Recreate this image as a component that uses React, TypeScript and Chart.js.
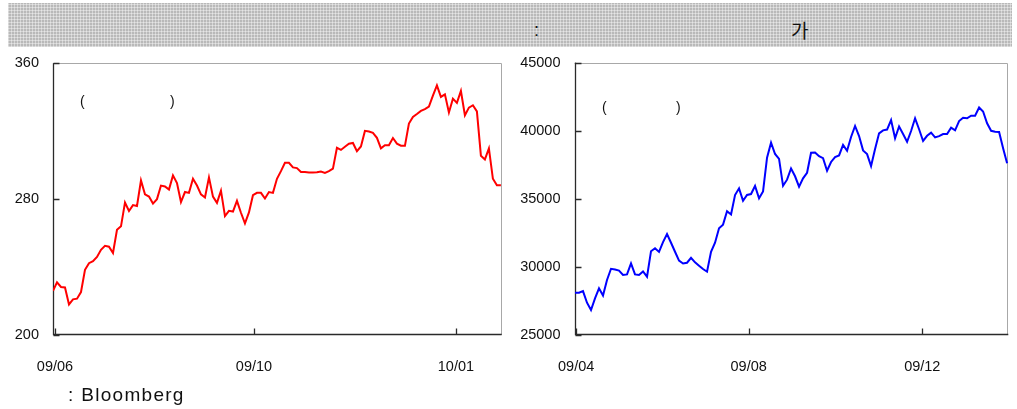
import React, { useEffect, useRef } from "react";
import { Chart, registerables } from "chart.js";

Chart.register(...registerables);

// ---- Left chart (red) ----
const leftValues = [
  226, 231, 228.3, 228, 218, 221, 221.4, 225.3, 238.4, 242.3,
  243.5, 246, 250.2, 252.5, 252, 248.3, 262, 264, 278, 273,
  276.5, 276, 291, 282.8, 281.5, 277.4, 280, 288, 287.5, 285.6,
  294, 289.5, 278.3, 284.2, 283.7, 292, 288, 282.8, 281, 292.8,
  281.5, 277.8, 285, 270, 273.1, 272.7, 279, 272, 265.7, 272.2,
  282.3, 283.7, 283.7, 280.4, 284.2, 283.7, 292, 296.5, 301.4, 301.4,
  298.7, 298.3, 296, 296, 295.7, 295.7, 295.8, 296.3, 295.5, 296.5,
  298, 310.2, 309, 310.9, 312.6, 313.1, 308.2, 311, 320.2, 319.8,
  319, 316.1, 309.9, 311.8, 311.8, 316, 312.7, 311.5, 311.4, 324.5,
  328.4, 330.1, 332, 333, 334.5, 341, 347, 340.2, 341.7, 331,
  339.2, 336.7, 343.7, 329.4, 333.9, 335.3, 331.7, 305.6, 303.4, 309.9,
  292, 288.2, 288.2,
];
const leftTickPositions = [0.5, 50.25, 100.75];
const leftTickLabels = ["09/06", "09/10", "10/01"];
const leftYMin = 200;
const leftYMax = 360;
const leftYStep = 80;

// ---- Right chart (blue) ----
const rightValues = [
  28100, 28100, 28220, 27370, 26830, 27690, 28425, 27900, 29035, 29860,
  29805, 29730, 29410, 29450, 30260, 29450, 29400, 29660, 29280, 31150,
  31370, 31100, 31820, 32410, 31770, 31110, 30460, 30250, 30305, 30660,
  30330, 30085, 29840, 29645, 31100, 31775, 32830, 33100, 34080, 33850,
  35275, 35765, 34850, 35275, 35345, 35935, 35030, 35540, 38010, 39115,
  38285, 37930, 35950, 36400, 37220, 36650, 35885, 36500, 36910, 38380,
  38400, 38120, 37980, 37060, 37700, 38060, 38180, 38950, 38525, 39530,
  40340, 39600, 38550, 38280, 37400, 38650, 39800, 40020, 40080, 40780,
  39435, 40300, 39750, 39185, 39970, 40905, 40100, 39240, 39620, 39850,
  39500, 39600, 39750, 39750, 40220, 40020, 40700, 40940, 40905, 41100,
  41100, 41700, 41400, 40540, 39990, 39920, 39900, 38700, 37600,
];
const rightTickPositions = [0.3, 43.4, 86.8];
const rightTickLabels = ["09/04", "09/08", "09/12"];
const rightYMin = 25000;
const rightYMax = 45000;
const rightYStep = 5000;

const FONT = "'Liberation Sans', Arial, Helvetica, sans-serif";

const framePlugin = {
  id: "frame",
  beforeDatasetsDraw(chart: any) {
    const { ctx, chartArea: a, scales } = chart;
    ctx.save();
    ctx.lineWidth = 1;
    ctx.strokeStyle = "#a8a8a8";
    ctx.beginPath();
    ctx.moveTo(a.left, Math.round(a.top) + 0.5);
    ctx.lineTo(Math.round(a.right) - 0.5, Math.round(a.top) + 0.5);
    ctx.lineTo(Math.round(a.right) - 0.5, a.bottom);
    ctx.stroke();

    ctx.strokeStyle = "#2a2a2a";
    ctx.lineWidth = 1.3;
    ctx.beginPath();
    const lx = Math.round(a.left) + 0.5;
    const by = Math.round(a.bottom) - 0.5;
    ctx.moveTo(lx, a.top);
    ctx.lineTo(lx, by);
    ctx.lineTo(a.right, by);
    scales.y.ticks.forEach((t: any) => {
      const y = Math.round(scales.y.getPixelForValue(t.value)) + 0.5;
      ctx.moveTo(lx, y);
      ctx.lineTo(lx + 6, y);
    });
    scales.x.ticks.forEach((t: any) => {
      const x = Math.round(scales.x.getPixelForValue(t.value)) + 0.5;
      ctx.moveTo(x, by);
      ctx.lineTo(x, by - 6);
    });
    ctx.stroke();
    ctx.restore();
  },
};

type LineProps = {
  values: number[];
  color: string;
  yMin: number;
  yMax: number;
  yStep: number;
  tickPos: number[];
  tickLabels: string[];
  xMin: number;
  xMax: number;
  left: number;
  top: number;
  width: number;
  height: number;
  yWidth: number;
  padTop: number;
  padRight: number;
};

function LineChart(p: LineProps) {
  const ref = useRef<HTMLCanvasElement>(null);
  useEffect(() => {
    const chart = new Chart(ref.current!, {
      type: "line",
      data: {
        datasets: [
          {
            data: p.values.map((v, i) => ({ x: i, y: v })),
            borderColor: p.color,
            borderWidth: 2,
            pointRadius: 0,
            tension: 0,
            fill: false,
          },
        ],
      },
      options: {
        animation: false,
        responsive: false,
        maintainAspectRatio: false,
        layout: { padding: { left: 0, top: p.padTop, right: p.padRight, bottom: 0 } },
        plugins: { legend: { display: false }, tooltip: { enabled: false } },
        scales: {
          x: {
            type: "linear",
            min: p.xMin,
            max: p.xMax,
            grid: { display: false, drawTicks: false, tickLength: 0 },
            border: { display: false },
            afterBuildTicks: (s: any) => {
              s.ticks = p.tickPos.map((v) => ({ value: v }));
            },
            afterFit: (s: any) => {
              s.height = 60;
              s.paddingLeft = 0;
              s.paddingRight = 0;
            },
            ticks: {
              autoSkip: false,
              maxRotation: 0,
              padding: 23,
              color: "#111",
              font: { family: FONT, size: 14.5 },
              callback: (_v: any, i: number) => p.tickLabels[i],
            },
          },
          y: {
            type: "linear",
            min: p.yMin,
            max: p.yMax,
            grid: { display: false, drawTicks: false, tickLength: 0 },
            border: { display: false },
            afterFit: (s: any) => {
              s.width = p.yWidth;
              s.paddingTop = 0;
              s.paddingBottom = 0;
            },
            ticks: {
              stepSize: p.yStep,
              padding: 14,
              color: "#111",
              font: { family: FONT, size: 14.5 },
              callback: (v: any) => String(v),
            },
          },
        },
      },
      plugins: [framePlugin],
    } as any);
    return () => chart.destroy();
  }, []);
  return (
    <canvas
      ref={ref}
      width={p.width}
      height={p.height}
      style={{ position: "absolute", left: p.left, top: p.top, width: p.width, height: p.height }}
    />
  );
}

const textStyle: React.CSSProperties = {
  position: "absolute",
  fontFamily: FONT,
  color: "#111",
  whiteSpace: "pre",
  lineHeight: 1,
};

export default function App() {
  return (
    <div style={{ position: "absolute", left: 0, top: 0, width: 1017, height: 409, background: "#fff", overflow: "hidden" }}>
      <div
        style={{
          position: "absolute",
          left: 8,
          top: 3,
          width: 1004,
          height: 44,
          backgroundColor: "#b9b9b9",
          backgroundImage:
            "repeating-linear-gradient(0deg, rgba(255,255,255,0.4) 0px, rgba(255,255,255,0.4) 1px, transparent 1px, transparent 3px), repeating-linear-gradient(90deg, rgba(255,255,255,0.4) 0px, rgba(255,255,255,0.4) 1px, transparent 1px, transparent 3px)",
        }}
      />
      <div style={{ ...textStyle, left: 534, top: 21, fontSize: 18 }}>:</div>
      <div style={{ ...textStyle, left: 791, top: 20, fontSize: 19, fontFamily: "'Noto Sans CJK KR', sans-serif" }}>가</div>

      <LineChart
        values={leftValues}
        color="#ff0000"
        yMin={leftYMin}
        yMax={leftYMax}
        yStep={leftYStep}
        tickPos={leftTickPositions}
        tickLabels={leftTickLabels}
        xMin={0}
        xMax={112.2}
        left={0}
        top={50}
        width={520}
        height={345}
        yWidth={53}
        padTop={13.3}
        padRight={18.3}
      />
      <LineChart
        values={rightValues}
        color="#0000ff"
        yMin={rightYMin}
        yMax={rightYMax}
        yStep={rightYStep}
        tickPos={rightTickPositions}
        tickLabels={rightTickLabels}
        xMin={-0.125}
        xMax={108.3}
        left={515}
        top={50}
        width={502}
        height={345}
        yWidth={59.5}
        padTop={12.5}
        padRight={8.7}
      />

      <div style={{ ...textStyle, left: 80, top: 94, fontSize: 14 }}>(</div>
      <div style={{ ...textStyle, left: 170, top: 94, fontSize: 14 }}>)</div>
      <div style={{ ...textStyle, left: 602, top: 100, fontSize: 14 }}>(</div>
      <div style={{ ...textStyle, left: 676, top: 100, fontSize: 14 }}>)</div>

      <div style={{ ...textStyle, left: 68, top: 385, fontSize: 19, letterSpacing: 1.3 }}>: Bloomberg</div>
    </div>
  );
}
